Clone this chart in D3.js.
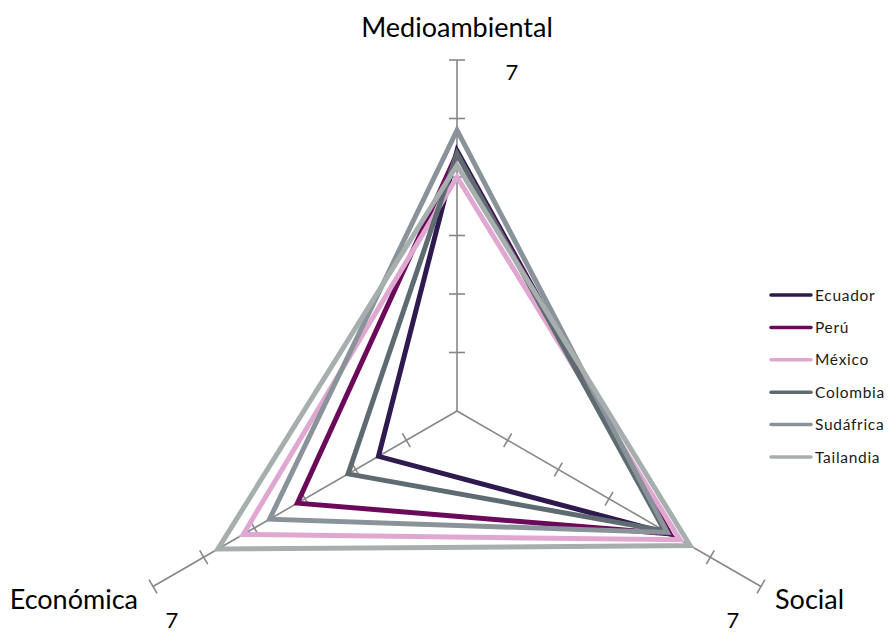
<!DOCTYPE html>
<html><head><meta charset="utf-8">
<script src="https://cdn.jsdelivr.net/npm/d3@7"></script>
<style>body{margin:0;background:#fff}svg{display:block}</style>
</head><body>
<svg id="c" width="890" height="635"></svg>
<script>
const axes = ["Medioambiental", "Social", "Económica"];
const countries = ["Ecuador", "Perú", "México", "Colombia", "Sudáfrica", "Tailandia"];
const ecuador   = [5.45, 5.2, 2.55];
const peru      = [5.4, 5.2, 4.15];
const mexico    = [5.0, 5.4, 5.22];
const colombia  = [5.4, 5.1, 3.15];
const sudafrica = [5.8, 5.15, 4.7];
const tailandia = [5.2, 5.6, 5.72];
const seriesValues = [ecuador, peru, mexico, colombia, sudafrica, tailandia];
const colors = ["#2f1a4f", "#6b0a5b", "#e0a8d0", "#5e6c72", "#8a9399", "#a7aeae"];
const tickValues = [2, 3, 4, 5, 6, 7];
const maxLabel = "7";

const svg = d3.select("#c");
const cx = 457, cy = 411, R = 351;
const r = d3.scaleLinear().domain([1, 7]).range([0, R]);
const ang = d3.scaleOrdinal().domain(axes).range([-90, 30, 150].map(a => a * Math.PI / 180));
const pt = (axis, v) => [cx + Math.cos(ang(axis)) * r(v), cy + Math.sin(ang(axis)) * r(v)];

// axes
const g = svg.append("g");
axes.forEach(a => {
  const t = ang(a);
  const [x2, y2] = pt(a, 7);
  g.append("line").attr("x1", cx).attr("y1", cy).attr("x2", x2).attr("y2", y2)
    .attr("stroke", "#878787").attr("stroke-width", 1.6);
  const px = -Math.sin(t), py = Math.cos(t);
  tickValues.forEach(v => {
    const [x, y] = pt(a, v);
    g.append("line").attr("x1", x - px * 8).attr("y1", y - py * 8)
      .attr("x2", x + px * 8).attr("y2", y + py * 8)
      .attr("stroke", "#878787").attr("stroke-width", 1.6);
  });
});

// series
const line = d3.line().curve(d3.curveLinearClosed);
seriesValues.forEach((vals, i) => {
  svg.append("path")
    .attr("d", line(axes.map((a, j) => pt(a, vals[j]))))
    .attr("fill", "none").attr("stroke", colors[i]).attr("stroke-width", 5)
    .attr("stroke-linejoin", "miter");
});

// axis labels
const font = "Lato, 'Open Sans', sans-serif";
svg.append("text").attr("x", 457).attr("y", 37).attr("text-anchor", "middle")
  .attr("font-family", font).attr("font-size", 27).attr("fill", "#000").text(axes[0]);
svg.append("text").attr("x", 775).attr("y", 609).attr("text-anchor", "start")
  .attr("font-family", font).attr("font-size", 27).attr("fill", "#000").text(axes[1]);
svg.append("text").attr("x", 138).attr("y", 609).attr("text-anchor", "end")
  .attr("font-family", font).attr("font-size", 27).attr("fill", "#000").text(axes[2]);
[[512, 80], [733, 628], [172, 628]].forEach(([x, y]) => {
  svg.append("text").attr("x", x).attr("y", y).attr("text-anchor", "middle")
    .attr("font-family", font).attr("font-size", 22).attr("fill", "#000").text(maxLabel);
});

// legend
const lg = svg.append("g");
countries.forEach((c, i) => {
  const y = 295 + i * 32.4;
  lg.append("line").attr("x1", 771).attr("x2", 811).attr("y1", y).attr("y2", y)
    .attr("stroke", colors[i]).attr("stroke-width", 3.5).attr("stroke-linecap", "round");
  lg.append("text").attr("x", 815).attr("y", y + 5.5).attr("font-family", font)
    .attr("font-size", 15.5).attr("letter-spacing", 0.7).attr("fill", "#1a1a1a").text(c);
});
</script>
</body></html>
